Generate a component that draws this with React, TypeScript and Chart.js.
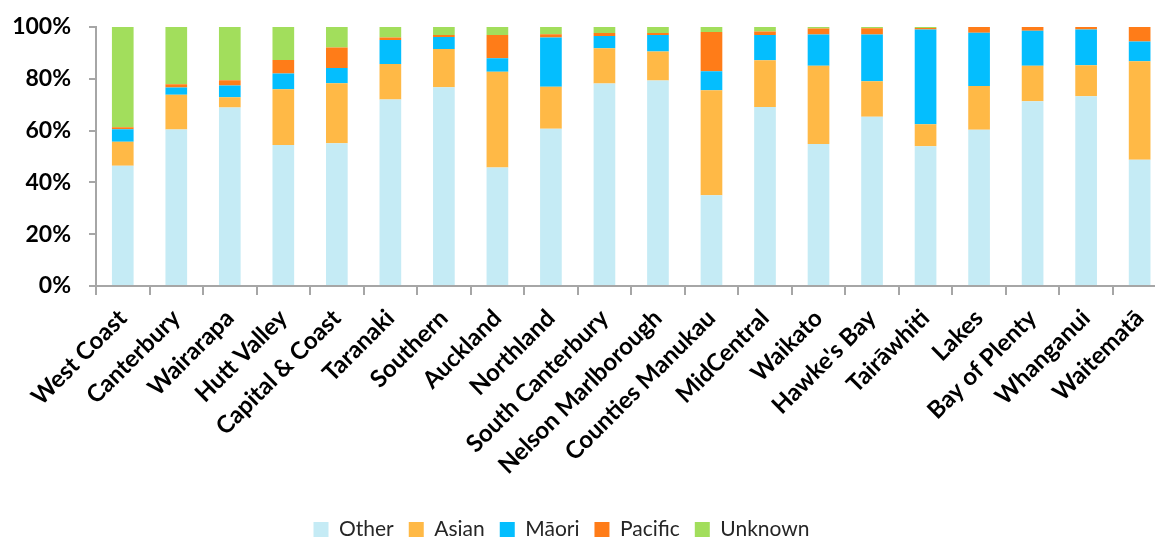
import React, { useEffect, useRef } from "react";
import { Chart, registerables } from "chart.js";

Chart.register(...registerables);

const categories = [
  "West Coast", "Canterbury", "Wairarapa", "Hutt Valley", "Capital & Coast",
  "Taranaki", "Southern", "Auckland", "Northland", "South Canterbury",
  "Nelson Marlborough", "Counties Manukau", "MidCentral", "Waikato", "Hawke's Bay",
  "Tairāwhiti", "Lakes", "Bay of Plenty", "Whanganui", "Waitematā",
];

const other = [46.4, 60.4, 68.9, 54.4, 55.1, 72.0, 76.7, 45.8, 60.7, 78.2, 79.3, 35.0, 69.1, 54.8, 65.3, 54.0, 60.3, 71.3, 73.3, 48.7];
const asian = [9.3, 13.4, 4.0, 21.6, 23.2, 13.7, 14.8, 36.9, 16.2, 13.6, 11.2, 40.6, 18.1, 30.2, 13.8, 8.5, 16.9, 13.7, 11.9, 38.1];
const maori = [4.8, 2.8, 4.5, 6.0, 5.9, 9.3, 4.6, 5.2, 19.0, 4.7, 6.4, 7.3, 9.7, 12.1, 18.0, 36.5, 20.6, 13.6, 13.8, 7.6];
const pacific = [0.8, 1.3, 2.0, 5.3, 7.9, 0.9, 0.8, 9.0, 1.3, 1.2, 0.8, 15.2, 1.4, 2.3, 2.4, 0.6, 2.2, 1.4, 1.0, 5.6];
const unknown = [38.7, 22.1, 20.6, 12.7, 7.9, 4.1, 3.1, 3.1, 2.8, 2.3, 2.3, 1.9, 1.7, 0.6, 0.5, 0.4, 0, 0, 0, 0];

const yTicks = [0, 20, 40, 60, 80, 100];

const FONT = "Lato, 'Open Sans', sans-serif";
const AXIS = "#a6a6a6";

export default function App() {
  const ref = useRef<HTMLCanvasElement | null>(null);

  useEffect(() => {
    if (!ref.current) return;
    const shiftLegend = {
      id: "shiftLegend",
      afterLayout(chart: any) {
        const l = chart.legend;
        if (!l) return;
        l.left -= 23;
        l.right -= 23;
        l.top += 10;
        l.bottom += 10;
      },
    };
    const mk = (label: string, data: number[], color: string) => ({
      label,
      data,
      backgroundColor: color,
      borderWidth: 0,
      barPercentage: 0.405,
      categoryPercentage: 1,
    });
    const chart = new Chart(ref.current, {
      type: "bar",
      data: {
        labels: categories,
        datasets: [
          mk("Other", other, "#c5ebf5"),
          mk("Asian", asian, "#ffb946"),
          mk("Māori", maori, "#04befe"),
          mk("Pacific", pacific, "#ff7c18"),
          mk("Unknown", unknown, "#a2de5c"),
        ],
      },
      plugins: [shiftLegend],
      options: {
        animation: false,
        responsive: false,
        events: [],
        layout: { padding: { top: 27, left: 0, right: 0, bottom: 0 } },
        plugins: {
          tooltip: { enabled: false },
          legend: {
            position: "bottom",
            labels: {
              font: { family: FONT, size: 21 },
              color: "#262626",
              boxWidth: 15,
              boxHeight: 15,
              padding: 15,
            },
          },
        },
        scales: {
          x: {
            stacked: true,
            afterFit: (axis: any) => { axis.height = 208; },
            border: { display: true, color: AXIS, width: 2 },
            grid: { display: true, drawOnChartArea: false, tickLength: 9, color: AXIS, lineWidth: 2, offset: true },
            ticks: {
              minRotation: 45,
              maxRotation: 45,
              autoSkip: false,
              padding: 9,
              color: "#000",
              font: { family: FONT, size: 24, weight: "bold" },
            },
          },
          y: {
            stacked: true,
            min: 0,
            max: 100,
            afterFit: (axis: any) => {
              axis.width = 96;
              axis.paddingTop = 0;
              axis.paddingBottom = 0;
            },
            afterBuildTicks: (axis: any) => { axis.ticks = yTicks.map((v) => ({ value: v })); },
            border: { display: true, color: AXIS, width: 2 },
            grid: { display: true, drawOnChartArea: false, tickLength: 7, color: AXIS, lineWidth: 2 },
            ticks: {
              padding: 18,
              color: "#000",
              font: { family: FONT, size: 23, weight: "bold" },
              callback: (v: any) => v + "%",
            },
          },
        },
      },
    });
    return () => chart.destroy();
  }, []);

  return (
    <div style={{ position: "fixed", left: 0, top: 0, width: 1155, height: 540, overflow: "hidden", background: "#fff" }}>
      <canvas ref={ref} width={1169} height={540} style={{ display: "block" }} />
    </div>
  );
}
